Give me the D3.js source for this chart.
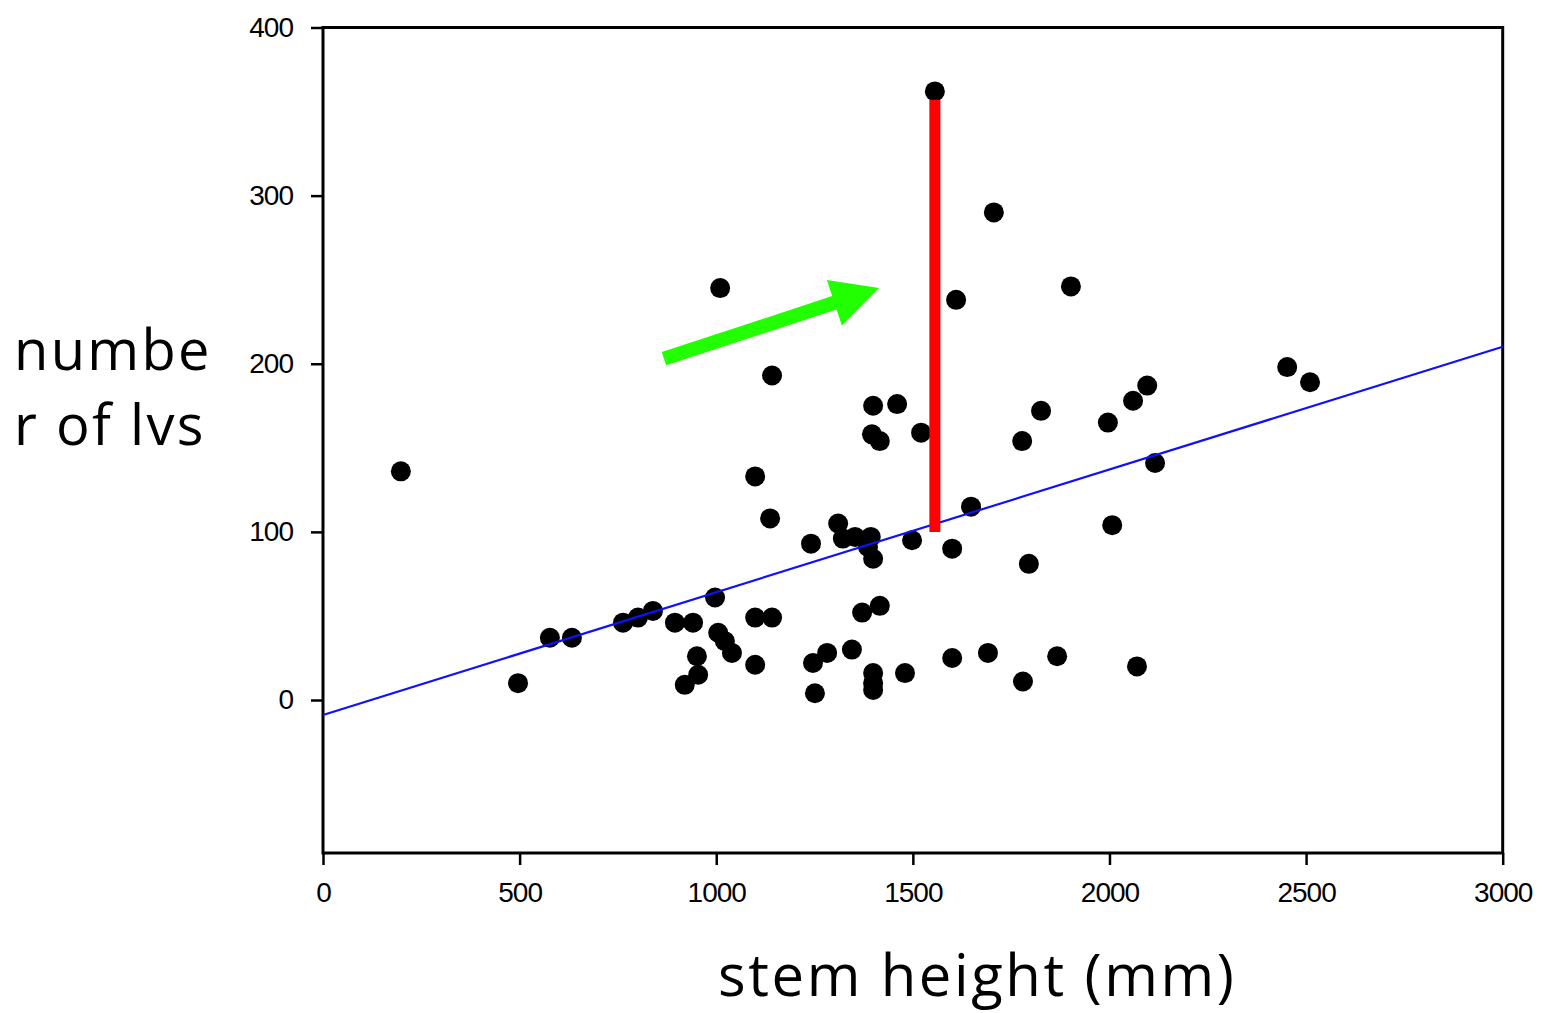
<!DOCTYPE html>
<html><head><meta charset="utf-8">
<script src="https://cdn.jsdelivr.net/npm/d3@7"></script>
<style>body{margin:0;background:#fff}svg{display:block}</style>
</head><body><svg id="c" width="1546" height="1013"></svg>
<script>
// ---- data ----
const stemHeight = [198, 496, 577, 633, 763, 801, 839, 895, 941, 997, 1005, 1022, 1040, 951, 954, 920,
  1099, 1142, 1099, 1246, 1282, 1251, 1345, 1399, 1399, 1399, 1371, 1416, 1480, 1600, 1691, 1780, 1867, 2070,
  1010, 1142, 1099, 1137, 1241, 1310, 1322, 1353, 1393, 1386, 1399, 1399, 1460, 1396, 1416, 1521, 1498,
  1556, 1600, 1648, 1610, 1706, 1902, 1795, 1778, 1826, 1996, 2007, 2060, 2096, 2116, 2452, 2510];
const leafCount = [136, 10, 37, 37, 46, 49, 53, 46, 46, 61, 40, 35, 28, 26, 15, 9,
  49, 49, 21, 22, 28, 4, 30, 16, 10, 6, 52, 56, 16, 25, 28, 11, 26, 20,
  245, 193, 133, 108, 93, 105, 96, 97, 97, 91, 84, 175, 176, 158, 154, 159, 95,
  362, 90, 115, 238, 290, 246, 81, 154, 172, 165, 104, 178, 187, 141, 198, 189];
const xTicks = [0, 500, 1000, 1500, 2000, 2500, 3000];
const yTicks = [0, 100, 200, 300, 400];
const xDomain = [0, 3000];
const yDomain = [-91, 400];
const fitIntercept = -8.9;
const fitSlope = 0.073;
const residualX = 1556, residualTop = 357, residualBottom = 100;
const arrowFrom = [867, 203], arrowTo = [1414, 245];
const xTitle = "stem height (mm)";
const yTitleLines = ["numbe", "r of lvs"];

// ---- chart ----
const svg = d3.select("#c");
const pLeft = 323, pRight = 1502.7, pTop = 27.5, pBottom = 853;
const x = d3.scaleLinear().domain(xDomain).range([pLeft, pRight]);
const y = d3.scaleLinear().domain(yDomain).range([pBottom, pTop]);
const tickFont = "'Liberation Sans', Arial, sans-serif";

const xAxis = svg.append("g").attr("transform", `translate(0,${pBottom})`)
  .call(d3.axisBottom(x).tickValues(xTicks).tickSize(12).tickSizeOuter(0).tickPadding(17).tickFormat(d3.format("d")));
const yAxis = svg.append("g").attr("transform", `translate(${pLeft},0)`)
  .call(d3.axisLeft(y).tickValues(yTicks).tickSize(12).tickSizeOuter(0).tickPadding(18).tickFormat(d3.format("d")));
[xAxis, yAxis].forEach(g => {
  g.select(".domain").remove();
  g.selectAll(".tick line").attr("stroke", "#000").attr("stroke-width", 2.5);
  g.selectAll(".tick text").attr("fill", "#000").style("font-family", tickFont)
    .style("font-size", "28px").style("letter-spacing", "-1px");
});

svg.append("rect").attr("x", pLeft).attr("y", pTop)
  .attr("width", pRight - pLeft).attr("height", pBottom - pTop)
  .attr("fill", "none").attr("stroke", "#000").attr("stroke-width", 3);

// points
svg.append("g").selectAll("circle").data(stemHeight).join("circle")
  .attr("cx", d => x(d)).attr("cy", (d, i) => y(leafCount[i])).attr("r", 10).attr("fill", "#000");

// regression line
svg.append("line")
  .attr("x1", x(xDomain[0])).attr("y1", y(fitIntercept + fitSlope * xDomain[0]))
  .attr("x2", x(xDomain[1])).attr("y2", y(fitIntercept + fitSlope * xDomain[1]))
  .attr("stroke", "#1010ff").attr("stroke-width", 2.2);

// residual
svg.append("line")
  .attr("x1", x(residualX)).attr("x2", x(residualX))
  .attr("y1", y(residualTop)).attr("y2", y(residualBottom))
  .attr("stroke", "#ff0000").attr("stroke-width", 11);

// arrow
(function(){
  const x0 = x(arrowFrom[0]), y0 = y(arrowFrom[1]), x1 = x(arrowTo[0]), y1 = y(arrowTo[1]);
  const dx = x1 - x0, dy = y1 - y0, L = Math.hypot(dx, dy);
  const ux = dx / L, uy = dy / L, nx = -uy, ny = ux;
  const headLen = 47, headHalf = 24, shaft = 7;
  const bx = x1 - ux * headLen, by = y1 - uy * headLen;
  const pts = [
    [x0 + nx * shaft, y0 + ny * shaft], [bx + nx * shaft, by + ny * shaft], [bx + nx * headHalf, by + ny * headHalf],
    [x1, y1], [bx - nx * headHalf, by - ny * headHalf], [bx - nx * shaft, by - ny * shaft], [x0 - nx * shaft, y0 - ny * shaft]
  ];
  svg.append("path").attr("d", d3.line()(pts) + "Z").attr("fill", "#22ff00");
})();

// titles
const titleFont = "'Open Sans', sans-serif";
svg.append("text").attr("x", 718).attr("y", 996).text(xTitle)
  .style("font-family", titleFont).style("font-size", "58px").style("letter-spacing", "2.6px").attr("fill", "#000");
svg.append("g").selectAll("text").data(yTitleLines).join("text")
  .attr("x", 14).attr("y", (d, i) => 370 + i * 75).text(d => d)
  .style("font-family", titleFont).style("font-size", "56px").style("letter-spacing", "2.3px").attr("fill", "#000");
</script>
</body></html>
